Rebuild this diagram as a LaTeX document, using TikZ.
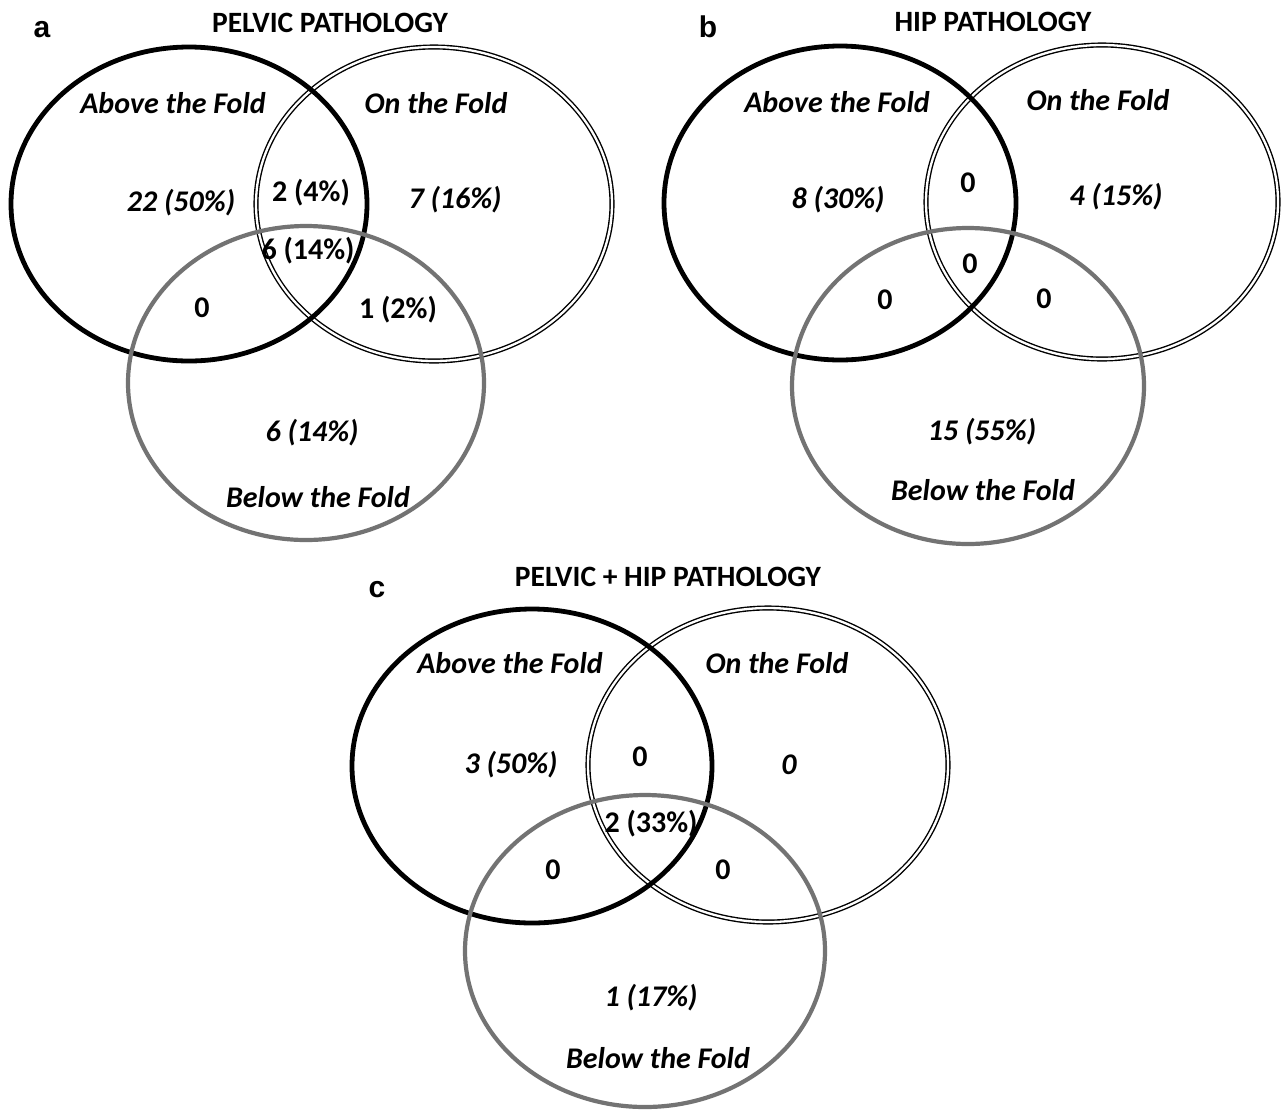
\documentclass[tikz,border=0pt]{standalone}
\usepackage{fontspec}
\newfontfamily\calib{Carlito}
\newfontfamily\arialf{Liberation Sans}
\definecolor{setgray}{RGB}{115,115,115}
\begin{document}
\begin{tikzpicture}[x=1pt,y=-1pt,
  setA/.style={draw=black,line width=4.8pt},
  setO/.style={draw=black,line width=1.4pt,double=white,double distance=2.3pt},
  setB/.style={draw=setgray,line width=4.2pt},
  ttl/.style={font=\calib\bfseries\fontsize{29.5}{33}\selectfont,inner sep=0pt},
  reg/.style={font=\calib\bfseries\itshape\fontsize{30}{34}\selectfont,inner sep=0pt},
  num/.style={font=\calib\bfseries\fontsize{30}{34}\selectfont,inner sep=0pt},
  inum/.style={font=\calib\bfseries\itshape\fontsize{30}{34}\selectfont,inner sep=0pt},
  letter/.style={font=\arialf\bfseries\fontsize{30}{34}\selectfont,inner sep=0pt}]
\useasboundingbox[fill=white] (0,0) rectangle (1282,1112);

% ---------- panel a ----------
\draw[setO] (434,204) ellipse [x radius=178,y radius=157];
\draw[setA] (189,204) ellipse [x radius=178,y radius=157];
\draw[setB] (306,383) ellipse [x radius=178,y radius=157];
\node[letter] (la) at (42,30) {a};
\node[ttl] (ta) at (330,23) {PELVIC PATHOLOGY};
\node[reg] (aA) at (173,103) {Above the Fold};
\node[reg] (aO) at (436,103) {On the Fold};
\node[inum] (aA1) at (181,203) {22 (50\%)};
\node[num] (aAO) at (311,193) {2 (4\%)};
\node[num] (aAOB) at (308,251) {6 (14\%)};
\node[inum] (aO1) at (455,200) {7 (16\%)};
\node[num] (aAB) at (202,308) {0};
\node[num] (aOB) at (398,310) {1 (2\%)};
\node[inum] (aB1) at (312,433) {6 (14\%)};
\node[reg] (aB) at (318,497) {Below the Fold};

% ---------- panel b ----------
\draw[setO] (1102,202) ellipse [x radius=176,y radius=157];
\draw[setA] (840,203) ellipse [x radius=176,y radius=157];
\draw[setB] (968,386) ellipse [x radius=176,y radius=158];
\node[letter] (lb) at (708,27) {b};
\node[ttl] (tb) at (993,22) {HIP PATHOLOGY};
\node[reg] (bA) at (837,102) {Above the Fold};
\node[reg] (bO) at (1098,100) {On the Fold};
\node[inum] (bA1) at (838,200) {8 (30\%)};
\node[inum] (bO1) at (1116,197) {4 (15\%)};
\node[num] (bAO) at (968,183) {0};
\node[num] (bAOB) at (970,264) {0};
\node[num] (bAB) at (885,300) {0};
\node[num] (bOB) at (1044,299) {0};
\node[inum] (bB1) at (982,432) {15 (55\%)};
\node[reg] (bB) at (983,490) {Below the Fold};

% ---------- panel c ----------
\draw[setO] (768,765) ellipse [x radius=180,y radius=157];
\draw[setA] (532,766) ellipse [x radius=180,y radius=157];
\draw[setB] (645,951) ellipse [x radius=180,y radius=156];
\node[letter] (lc) at (377,590) {c};
\node[ttl] (tc) at (668,577) {PELVIC + HIP PATHOLOGY};
\node[reg] (cA) at (510,663) {Above the Fold};
\node[reg] (cO) at (777,663) {On the Fold};
\node[inum] (cA1) at (511,765) {3 (50\%)};
\node[num] (cAO) at (640,757) {0};
\node[inum] (cO1) at (789,765) {0};
\node[num] (cAOB) at (651,824) {2 (33\%)};
\node[num] (cAB) at (553,870) {0};
\node[num] (cOB) at (723,870) {0};
\node[inum] (cB1) at (651,998) {1 (17\%)};
\node[reg] (cB) at (658,1058) {Below the Fold};
\end{tikzpicture}
\end{document}
